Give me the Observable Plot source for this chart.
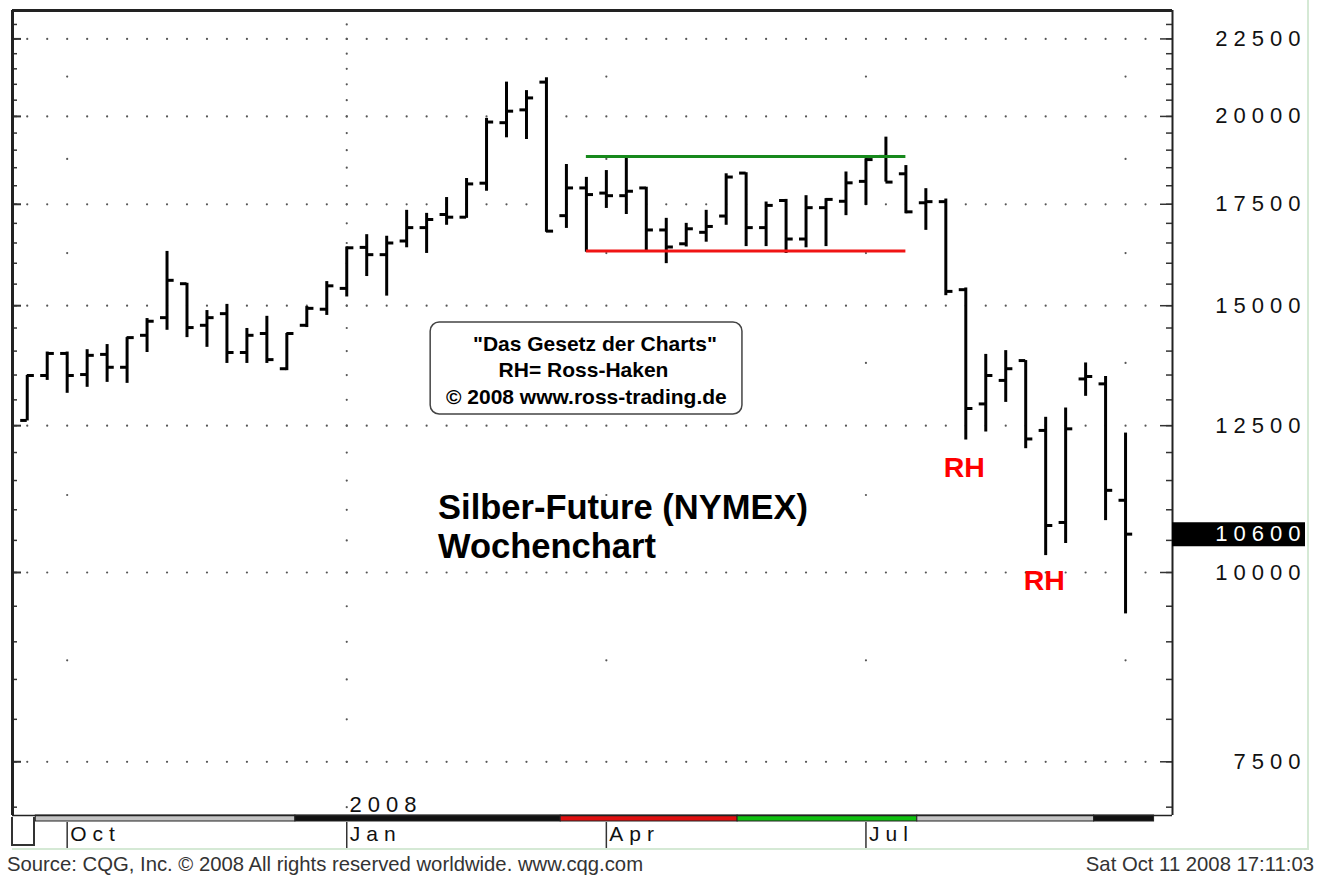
<!DOCTYPE html>
<html><head><meta charset="utf-8">
<script src="https://cdn.jsdelivr.net/npm/d3@7"></script>
<script src="https://cdn.jsdelivr.net/npm/@observablehq/plot@0.6"></script>
<style>
html,body{margin:0;padding:0;background:#fff;}
#wrap{position:relative;width:1322px;height:877px;overflow:hidden;background:#fff;font-family:"Liberation Sans",Arial,sans-serif;}
#chart{position:absolute;left:0;top:0;}
#chart svg{overflow:visible;}
g[aria-label="y-axis tick label"] text{letter-spacing:6px;}
g[aria-label="x-axis tick label"] text{letter-spacing:6px;}
#panel{position:absolute;left:12px;top:-2px;width:1295px;height:850px;border-right:2px solid #d5e9d5;border-bottom:2px solid #d5e9d5;}
#corner{position:absolute;left:11px;top:817px;width:20px;height:27px;border:2px solid #333;border-top:none;}
#src{position:absolute;left:7px;top:853px;font-size:20.3px;color:#333;white-space:nowrap;}
#ts{position:absolute;right:8px;top:853px;font-size:20.3px;color:#333;white-space:nowrap;}
</style></head>
<body>
<div id="wrap">
  <div id="panel"></div>
  <div id="chart"></div>
  <div id="corner"></div>
  <div id="src">Source: CQG, Inc. © 2008 All rights reserved worldwide. www.cqg.com</div>
  <div id="ts">Sat Oct 11 2008 17:11:03</div>
</div>
<script>
// ---- weekly OHLC data (Silber-Future NYMEX, cents/oz) ----
const dates = ["2007-09-17","2007-09-24","2007-10-01","2007-10-08","2007-10-15","2007-10-22","2007-10-29","2007-11-05","2007-11-12","2007-11-19","2007-11-26","2007-12-03","2007-12-10","2007-12-17","2007-12-24","2007-12-31","2008-01-07","2008-01-14","2008-01-21","2008-01-28","2008-02-04","2008-02-11","2008-02-18","2008-02-25","2008-03-03","2008-03-10","2008-03-17","2008-03-24","2008-03-31","2008-04-07","2008-04-14","2008-04-21","2008-04-28","2008-05-05","2008-05-12","2008-05-19","2008-05-26","2008-06-02","2008-06-09","2008-06-16","2008-06-23","2008-06-30","2008-07-07","2008-07-14","2008-07-21","2008-07-28","2008-08-04","2008-08-11","2008-08-18","2008-08-25","2008-09-01","2008-09-08","2008-09-15","2008-09-22","2008-09-29","2008-10-06"];
const open  = [12600,13490,13950,13510,13930,13660,14340,14730,15510,14560,14820,13970,14380,13630,14560,14920,15400,16390,16210,16550,16890,17230,17160,18070,19810,20200,21070,17200,17940,17800,17730,17940,16830,16480,16770,17190,18350,16890,17600,16600,17410,17580,18120,18820,18330,17540,17570,15370,12920,13390,13800,12410,10790,13420,13320,11160];
const high  = [13490,13980,13980,14030,14140,14290,14710,16290,15520,14890,15030,14490,14760,14380,14980,15560,16400,16710,16670,17340,17260,17680,18200,19940,21070,20800,21210,18590,18230,18420,18800,17960,17130,17000,17340,18330,18360,17560,17630,17730,17650,18380,18750,19380,18560,17920,17640,15410,13930,14010,13800,12660,12840,13750,13470,12360];
const low   = [12590,13390,13130,13250,13350,13330,13970,14450,14290,14080,13740,13740,13740,13590,14510,14780,15200,15680,15220,16380,16240,16950,17130,17850,19360,19310,16770,16870,16270,17390,17230,16310,15990,16400,16520,16950,16410,16410,16240,16380,16410,17200,17470,18100,17250,16820,15230,12230,12380,12950,12070,10260,10450,13070,10820,9390];
const close = [13490,13950,13490,13910,13660,14290,14650,15590,14510,14730,13970,14340,13820,14380,14940,15460,16380,16210,16500,16890,17100,17160,18050,19830,20160,20570,16800,17940,17760,17730,17850,16830,16400,16860,16920,18240,16890,17470,16600,17410,17630,18080,18730,18100,17300,17570,15330,12830,13490,13630,12250,10740,12440,13470,11330,10600];
const lastPrice = 10600;

// ---- axis ticks / labels ----
const yMajor = [7500,10000,12500,15000,17500,20000,22500];
const yMinor = [7000,7500,8000,8500,9000,9500,10000,10500,11000,11500,12000,12500,13000,13500,14000,14500,15000,15500,16000,16500,17000,17500,18000,18500,19000,19500,20000,20500,21000,21500,22000,22500,23000];
const yMid = [8750,11250,13750,16250,18750,21250];
const monthTickDates = ["2007-10-01","2008-01-07","2008-04-07","2008-07-07"];
const monthTickLabels = ["Oct","Jan","Apr","Jul"];
const quarterColumns = ["2007-10-01","2008-04-07","2008-07-07","2008-10-06"];
const yearColumn = ["2008-01-07"];
const extraGridWeek = ["2008-10-13"];
const yearLabel = [{date: "2008-01-08", value: 7029, text: "2008"}];

// ---- time-bar strip under the chart ----
const stripStart = ["2007-09-20","2007-12-20","2008-03-22","2008-05-23","2008-07-25","2008-09-25"];
const stripEnd   = ["2007-12-20","2008-03-22","2008-05-23","2008-07-25","2008-09-25","2008-10-16"];
const stripColor = ["#c4c4c4","#111111","#e01010","#10c010","#c4c4c4","#111111"];

// ---- annotations ----
const levelNames = ["resistance","support"];
const levelValues = [18820, 16300];
const levelColors = ["#17891c","#f01414"];
const levelStart = "2008-03-31", levelEnd = "2008-07-21";
const boxX = ["2008-02-05T10:00Z","2008-05-24T17:00Z"];
const boxY = [12714, 14622];
const boxText = ["\"Das Gesetz der Charts\"","RH= Ross-Haken","© 2008 www.ross-trading.de"];
const boxTextX = ["2008-04-03","2008-03-30","2008-03-31"];
const boxTextY = [14141, 13593, 13047];
const titleText = ["Silber-Future (NYMEX)","Wochenchart"];
const titleX = "2008-02-08";
const titleY = [11030, 10403];
const rhText = ["RH","RH"];
const rhX = ["2008-08-10T12:00Z","2008-09-07T12:00Z"];
const rhY = [11730, 9879];

// ---- build ----
const P = s => new Date(s.length <= 10 ? s + "T00:00Z" : s);
const bars = dates.map((d,i) => ({date: P(d), open: open[i], high: high[i], low: low[i], close: close[i]}));
const rowDots = d3.cross([...dates, ...extraGridWeek], yMajor).map(([d,v]) => ({date: P(d), v}));
const colDots = [
  ...d3.cross(quarterColumns, yMid).map(([d,v]) => ({date: P(d), v})),
  ...d3.cross(yearColumn, yMinor).map(([d,v]) => ({date: P(d), v}))
];
const monthDates = monthTickDates.map(P);
const monthLabelOf = new Map(monthDates.map((d,i) => [+d, monthTickLabels[i]]));
const strip = stripStart.map((s,i) => ({start: P(s), end: P(stripEnd[i]), color: stripColor[i]}));
const levels = levelValues.map((v,i) => ({name: levelNames[i], value: v, color: levelColors[i], start: P(levelStart), end: P(levelEnd)}));
const box = [{x1: P(boxX[0]), x2: P(boxX[1]), y1: boxY[0], y2: boxY[1]}];
const boxLines = boxText.map((t,i) => ({text: t, date: P(boxTextX[i]), value: boxTextY[i]}));
const titles = titleText.map((t,i) => ({text: t, date: P(titleX), value: titleY[i]}));
const rhs = rhText.map((t,i) => ({text: t, date: P(rhX[i]), value: rhY[i]}));
const years = yearLabel.map(d => ({...d, date: P(d.date)}));

const W = 1322, H = 852, mL = 12, mR = 150, mT = 10, mB = 37;
const plotW = W - mL - mR, plotH = H - mT - mB;
const xDomain = [P("2007-09-11T20:00Z"), P("2008-10-22T11:00Z")];
const yDomain = [6912, 23493];
const tickBefore = d => d3.utcHour.offset(d.date, -55);
const tickAfter = d => d3.utcHour.offset(d.date, 60);

const chart = Plot.plot({
  width: W, height: H, marginLeft: mL, marginRight: mR, marginTop: mT, marginBottom: mB,
  style: {fontFamily: "'Liberation Sans', Arial, sans-serif", background: "transparent", overflow: "visible"},
  x: {type: "utc", domain: xDomain},
  y: {type: "log", domain: yDomain},
  marks: [
    Plot.dot(rowDots, {x: "date", y: "v", r: 1.1, fill: "#555", stroke: "none"}),
    Plot.dot(colDots, {x: "date", y: "v", r: 1.1, fill: "#555", stroke: "none"}),
    Plot.ruleY(yMinor, {insetRight: plotW - 5, stroke: "#333", strokeWidth: 1.5}),
    Plot.ruleY(yMajor, {insetRight: plotW - 9, stroke: "#333", strokeWidth: 2}),
    Plot.ruleY(yMinor, {insetLeft: plotW - 6, stroke: "#333", strokeWidth: 1.5}),
    Plot.ruleY(yMajor, {insetLeft: plotW - 12, stroke: "#333", strokeWidth: 1.5}),
    // month ticks below the strip, then labels
    Plot.ruleX(monthDates, {stroke: "#333", strokeWidth: 1.5, insetTop: plotH + 7, insetBottom: -33}),
    Plot.axisX(monthDates, {anchor: "bottom", tickSize: 0, tickPadding: 11, dx: 3, textAnchor: "start", tickFormat: d => monthLabelOf.get(+d), fontSize: 21, fill: "#111"}),
    Plot.rect(strip, {x1: "start", x2: "end", fill: "color", stroke: "#222", strokeWidth: 1, insetTop: plotH, insetBottom: -6}),
    // OHLC bars
    Plot.ruleX(bars, {x: "date", y1: "low", y2: "high", stroke: "#000", strokeWidth: 3}),
    Plot.ruleY(bars, {y: "open", x1: tickBefore, x2: "date", stroke: "#000", strokeWidth: 3}),
    Plot.ruleY(bars, {y: "close", x1: "date", x2: tickAfter, stroke: "#000", strokeWidth: 3}),
    // range lines
    Plot.ruleY(levels, {y: "value", x1: "start", x2: "end", stroke: "color", strokeWidth: 3}),
    // info box
    Plot.rect(box, {x1: "x1", x2: "x2", y1: "y1", y2: "y2", fill: "white", stroke: "#444", strokeWidth: 1.5, rx: 9}),
    Plot.text(boxLines, {x: "date", y: "value", text: "text", fontSize: 21, fontWeight: "bold", fill: "#000"}),
    Plot.text(titles, {x: "date", y: "value", text: "text", textAnchor: "start", fontSize: 34.5, fontWeight: "bold", fill: "#000"}),
    Plot.text(rhs, {x: "date", y: "value", text: "text", fontSize: 28.5, fontWeight: "bold", fill: "#f00"}),
    Plot.text(years, {x: "date", y: "value", text: "text", textAnchor: "start", fontSize: 22, fill: "#111"}),
    // frame
    Plot.ruleX([xDomain[0]], {stroke: "#222", strokeWidth: 3}),
    Plot.ruleY([yDomain[1]], {stroke: "#222", strokeWidth: 3}),
    Plot.ruleX([xDomain[1]], {stroke: "#222", strokeWidth: 2}),
    Plot.ruleY([yDomain[0]], {stroke: "#222", strokeWidth: 1.5}),
    // last price marker
    Plot.ruleY([lastPrice], {stroke: "#000", strokeWidth: 24, insetLeft: plotW, insetRight: -133}),
    Plot.axisY([lastPrice], {anchor: "right", tickSize: 0, tickPadding: 0, dx: 134, textAnchor: "end", fontSize: 22, fill: "#fff", tickFormat: d => String(d)}),
    Plot.axisY(yMajor, {anchor: "right", tickSize: 0, tickPadding: 0, dx: 134, textAnchor: "end", fontSize: 22, fill: "#111", tickFormat: d => String(d)})
  ]
});
// letter spacing for the year label
d3.select(chart).selectAll("text").filter(function(){ return this.textContent === "2008"; }).style("letter-spacing", "6px");
document.getElementById("chart").appendChild(chart);
</script>
</body></html>
